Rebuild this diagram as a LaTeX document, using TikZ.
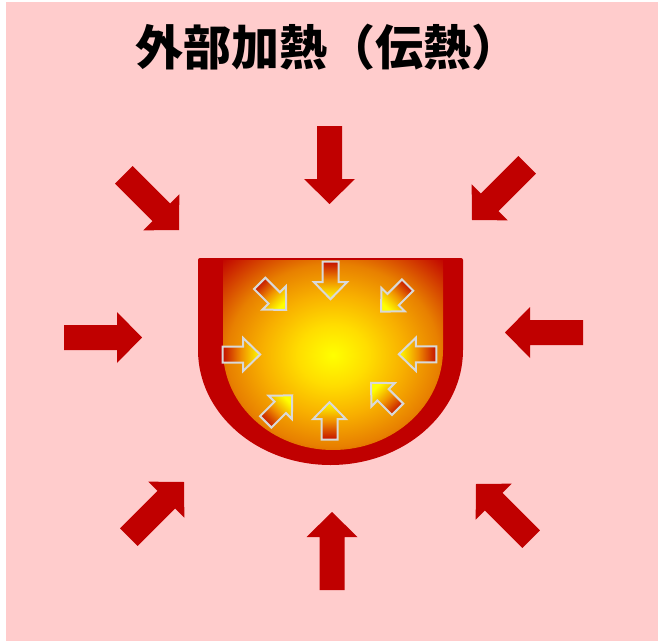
\documentclass[tikz,border=0pt]{standalone}
\usepackage{fontspec}
\newfontfamily\jpfont{Noto Sans CJK JP}
\definecolor{bgpink}{HTML}{FFCCCC}
\definecolor{heatred}{HTML}{C00000}
\definecolor{rimgray}{HTML}{D9D9D9}
\definecolor{h0}{HTML}{FFFF00}
\definecolor{h1}{HTML}{FFDD00}
\definecolor{h2}{HTML}{F8B000}
\definecolor{h3}{HTML}{E88000}
\definecolor{h4}{HTML}{D44000}
\definecolor{h5}{HTML}{C00000}
\definecolor{tailred}{HTML}{C41000}
\definecolor{midorange}{HTML}{F09000}
% radial glow inside the vessel (25bp = edge of the bounding box)
\pgfdeclareradialshading{cupheat}{\pgfpoint{0bp}{0bp}}{%
  color(0bp)=(h0); color(8bp)=(h1); color(16bp)=(h2); color(24bp)=(h3);
  color(30bp)=(h4); color(36bp)=(h5); color(50bp)=(h5)}
\tikzset{
  pics/bigarrow/.style={code={%
    \fill[heatred] (-78,12.5) -- (-25,12.5) -- (-25,25.5) -- (0,0)
      -- (-25,-25.5) -- (-25,-12.5) -- (-78,-12.5) -- cycle;}},
  heatrim/.style={draw=rimgray, line width=2pt, line join=miter},
}
% small inner arrow: tip point, direction angle
\newcommand\heatarrow[2]{%
  \begin{scope}[shift={#1}, rotate=#2]
    \pgfmathsetmacro\shadeang{#2-90}
    \shade[heatrim, top color=h0, bottom color=tailred, middle color=midorange,
           shading angle=\shadeang]
      (-39,8) -- (-18.5,8) -- (-18.5,16.5) -- (-1.5,0) -- (-18.5,-16.5)
      -- (-18.5,-8) -- (-39,-8) -- cycle;
  \end{scope}}
\begin{document}
\begin{tikzpicture}[x=1pt, y=-1pt]
  \useasboundingbox (0,0) rectangle (659,642);
  \fill[white] (0,0) rectangle (659,642);
  \fill[bgpink] (6,2) rectangle (658,641);

  \node[font=\jpfont\bfseries\fontsize{48}{58}\selectfont] (title) at (327,47) {外部加熱（伝熱）};

  % outer heat arrows, placed by their tips
  \coordinate (oN) at (329.5,204);
  \coordinate (oS) at (332,512);
  \coordinate (oW) at (142,337.5);
  \coordinate (oE) at (505,332.5);
  \coordinate (oNW) at (179,230);
  \coordinate (oNE) at (472,220);
  \coordinate (oSW) at (184,482);
  \coordinate (oSE) at (476,484);
  \pic[rotate=-90] at (oN) {bigarrow};
  \pic[rotate=90] at (oS) {bigarrow};
  \pic[rotate=0] at (oW) {bigarrow};
  \pic[rotate=180] at (oE) {bigarrow};
  \pic[rotate=-45] at (oNW) {bigarrow};
  \pic[rotate=-135] at (oNE) {bigarrow};
  \pic[rotate=45] at (oSW) {bigarrow};
  \pic[rotate=135] at (oSE) {bigarrow};

  % vessel wall and heated content
  \fill[heatred, rounded corners=2pt] (198,258) -- (463,258) -- (463,300) [sharp corners] -- (463,350)
    arc[start angle=0, end angle=180, x radius=132.5, y radius=115] [rounded corners=2pt] -- (198,300) -- cycle;
  \shade[shading=cupheat] (223,260) -- (443,260) -- (443,350)
    arc[start angle=0, end angle=180, x radius=110, y radius=100] -- cycle;

  % heat spreading inward
  \coordinate (iN) at (330.5,300.7);
  \coordinate (iS) at (329.5,400.7);
  \coordinate (iW) at (261.7,354.5);
  \coordinate (iE) at (397.3,354.3);
  \coordinate (iNW) at (287.3,311);
  \coordinate (iNE) at (380,312.7);
  \coordinate (iSW) at (293.3,394.3);
  \coordinate (iSE) at (370,381.7);
  \heatarrow{(iN)}{-90}
  \heatarrow{(iS)}{90}
  \heatarrow{(iW)}{0}
  \heatarrow{(iE)}{180}
  \heatarrow{(iNW)}{-45}
  \heatarrow{(iNE)}{-135}
  \heatarrow{(iSW)}{45}
  \heatarrow{(iSE)}{135}
\end{tikzpicture}
\end{document}
